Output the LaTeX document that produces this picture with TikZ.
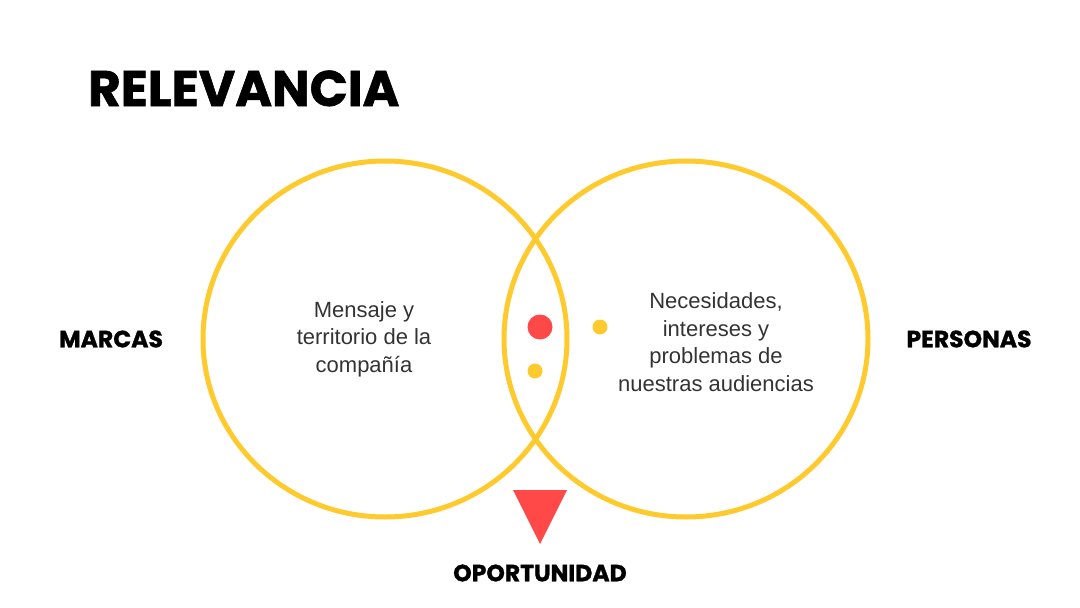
\documentclass[tikz,border=0pt]{standalone}
\usepackage{fontspec}
\setmainfont{Liberation Sans}
\newfontfamily\heavy{Poppins}[BoldFeatures={FakeBold=1.2}]
\usepackage{xcolor}
\usetikzlibrary{positioning}
\definecolor{sun}{HTML}{FFCA2E}
\definecolor{coral}{HTML}{FF4848}
\definecolor{ink}{HTML}{333333}
\tikzset{
  ring/.style={draw=sun,line width=5pt},
  caps/.style={font=\heavy\bfseries\fontsize{23.5}{26}\selectfont,text=black},
  body/.style={font=\fontsize{22}{27.5}\selectfont,text=ink,align=center},
}

\begin{document}
\begin{tikzpicture}[x=1pt,y=-1pt]
\useasboundingbox (0,0) rectangle (1080,608);
% circles
\draw[ring] (385,339) ellipse (182pt and 178pt);
\draw[ring] (686,339) ellipse (182pt and 178pt);
% dots and marker
\fill[coral] (540,327) circle (12.5pt);
\fill[sun] (535,371) circle (7.5pt);
\fill[sun] (600,327) circle (7.5pt);
\fill[coral] (513,490) -- (567,490) -- (540,544) -- cycle;
% texts
\node[anchor=base west,inner sep=0,font=\heavy\bfseries\fontsize{50}{54}\selectfont] (title) at (88,106) {RELEVANCIA};
\node[caps] (marcas) at (111,339) {MARCAS};
\node[caps] (personas) at (969,339) {PERSONAS};
\node[caps] (oport) at (540,573) {OPORTUNIDAD};
\node[body] (brand) at (364,339) {Mensaje y\\territorio de la\\compañía};
\node[body] (people) at (716,342) {Necesidades,\\intereses y\\problemas de\\nuestras audiencias};
\end{tikzpicture}
\end{document}
